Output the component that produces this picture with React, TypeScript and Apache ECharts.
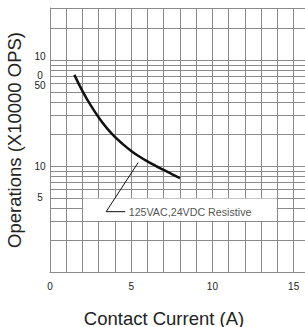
import React, { useEffect, useRef } from 'react';
import * as echarts from 'echarts';

// Curve: contact current (A) vs operations (x10000 OPS)
const currentA = [1.5, 2, 2.5, 3, 3.5, 4, 4.5, 5, 5.5, 6, 6.5, 7, 7.5, 8];
const operations = [72.5, 51, 37.5, 28.7, 22.8, 18.8, 16, 13.9, 12.3, 11.05, 10.05, 9.2, 8.4, 7.7];

// Grid / tick values
const xGridValues = [0, 1, 2, 3, 4, 5, 6, 7, 8, 9, 10, 11, 12, 13, 14, 15];
const xTickLabels = [0, 5, 10, 15];
const yGridValues = [1, 2, 3, 4, 5, 6, 7, 8, 9, 10, 20, 30, 40, 50, 60, 70, 80, 90, 100, 200, 310];
const yLabelAt = [5, 10, 57, 71, 109];
const yLabelText = ['5', '10', '50', '0', '10'];
const yMax = 310;
const xMax = 15.7;

// Annotation
const leaderX = [5.43, 3.46, 4.63];
const leaderY = [10.8, 3.71, 3.71];
const noteText = '125VAC,24VDC Resistive';
const boxX = [2, 14];
const boxY = [3, 5];

const lg = (v: number) => Math.log10(v);
const FONT = '"Liberation Sans", Arial, sans-serif';
const GRID_COLOR = '#8a8a8a';
const TEXT_COLOR = '#222';

export default function App() {
  const ref = useRef<HTMLDivElement>(null);

  useEffect(() => {
    if (!ref.current) return;
    const chart = echarts.init(ref.current, null, { renderer: 'svg' });
    const option: any = {
      animation: false,
      textStyle: { fontFamily: FONT },
      grid: { left: 50, right: 0, top: 8, bottom: 55, containLabel: false, outerBoundsMode: 'none' },
      xAxis: {
        type: 'value',
        min: 0,
        max: xMax,
        axisLine: { show: true, lineStyle: { color: GRID_COLOR, width: 1 } },
        axisTick: { show: false, customValues: xGridValues },
        axisLabel: {
          customValues: xTickLabels,
          fontSize: 10,
          color: TEXT_COLOR,
          margin: 9,
          fontFamily: FONT,
        },
        splitLine: { show: true, lineStyle: { color: GRID_COLOR, width: 1 } },
        name: 'Contact Current (A)',
        nameLocation: 'middle',
        nameGap: 37,
        nameTextStyle: {
          fontSize: 18.5,
          lineHeight: 18,
          color: TEXT_COLOR,
          fontFamily: FONT,
          padding: [0, 27, 0, 0],
        },
      },
      yAxis: {
        type: 'value',
        min: 0,
        max: lg(yMax),
        axisLine: { show: true, lineStyle: { color: GRID_COLOR, width: 1 } },
        axisTick: { show: false, customValues: yGridValues.map(lg) },
        axisLabel: {
          customValues: yLabelAt.map(lg),
          formatter: (v: number) => {
            const i = yLabelAt.findIndex((a) => Math.abs(lg(a) - v) < 1e-6);
            return i >= 0 ? yLabelText[i] : '';
          },
          fontSize: 10,
          color: TEXT_COLOR,
          align: 'center',
          margin: 10,
          fontFamily: FONT,
        },
        splitLine: { show: true, lineStyle: { color: GRID_COLOR, width: 1 } },
        name: 'Operations (X10000 OPS)',
        nameLocation: 'middle',
        nameGap: 22,
        nameTextStyle: { fontSize: 18.5, color: TEXT_COLOR, fontFamily: FONT },
      },
      series: [
        {
          type: 'line',
          data: [],
          z: 2,
          silent: true,
          markArea: {
            silent: true,
            itemStyle: { color: '#ffffff', borderWidth: 0 },
            data: [
              [
                { xAxis: boxX[0] + 0.04, yAxis: lg(boxY[0]) + 0.006 },
                { xAxis: boxX[1] - 0.04, yAxis: lg(boxY[1]) - 0.006 },
              ],
            ],
          },
        },
        {
          type: 'line',
          z: 4,
          smooth: 0.5,
          symbol: 'none',
          lineStyle: { color: '#111', width: 2.5 },
          data: currentA.map((x, i) => [x, lg(operations[i])]),
        },
        {
          type: 'line',
          z: 4,
          symbol: 'none',
          lineStyle: { color: '#111', width: 1 },
          data: leaderX.map((x, i) => [x, lg(leaderY[i])]),
        },
        {
          type: 'scatter',
          z: 5,
          symbolSize: 1,
          itemStyle: { color: 'rgba(0,0,0,0)' },
          data: [
            {
              value: [leaderX[2], lg(leaderY[2])],
              label: {
                show: true,
                position: 'right',
                distance: 3,
                formatter: noteText,
                fontSize: 10.7,
                color: TEXT_COLOR,
                fontFamily: FONT,
              },
            },
          ],
        },
      ],
    };
    chart.setOption(option);
    return () => chart.dispose();
  }, []);

  return (
    <div
      ref={ref}
      style={{ position: 'absolute', left: 0, top: 0, width: 305, height: 327, background: '#fff' }}
    />
  );
}
